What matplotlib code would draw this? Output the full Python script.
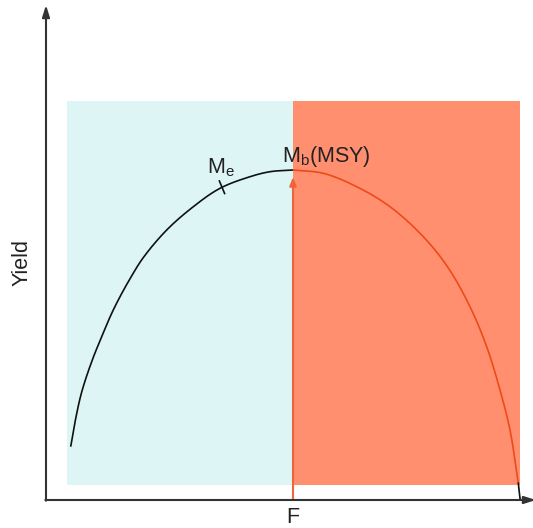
import numpy as np
import matplotlib
matplotlib.use("Agg")
import matplotlib.pyplot as plt
from matplotlib.patches import Rectangle

plt.rcParams['font.family'] = ['Liberation Sans', 'DejaVu Sans']
plt.rcParams['mathtext.fontset'] = 'custom'
plt.rcParams['mathtext.rm'] = 'Liberation Sans'
plt.rcParams['mathtext.it'] = 'Liberation Sans'

# ---- data (F, Yield) ----
f_left = [24.7, 29, 35.7, 46.3, 55.7, 65.7, 74, 83.3, 97, 120.7, 147.3, 174, 204, 224, 247.3]
y_left = [53.3, 78, 108, 140, 163.3, 186.7, 203.3, 220, 242, 270, 293.3, 311.7, 323.3, 328.3, 330]
f_right = [247.3, 277.3, 310.7, 344, 377.3, 402, 424, 440.7, 454, 464, 472.3]
y_right = [330, 326.7, 313.3, 293.3, 263.3, 232.5, 193.3, 153.3, 110, 70, 16.7]
f_tail = [472.3, 474]
y_tail = [16.7, 1.7]

f_me, y_me = 176, 312.5     # M_e marker
f_msy, y_msy = 247, 330     # MSY point

zone_left = (21, 247)
zone_right = (247, 474)
zone_y = (15.5, 399)

x_label = "F"
y_label = "Yield"


def smooth(xs, ys, n=24, alpha=0.5):
    p = np.column_stack([xs, ys]).astype(float)
    p = np.vstack([2 * p[0] - p[1], p, 2 * p[-1] - p[-2]])
    out = []
    for i in range(1, len(p) - 2):
        p0, p1, p2, p3 = p[i - 1], p[i], p[i + 1], p[i + 2]
        t0 = 0.0
        t1 = t0 + np.linalg.norm(p1 - p0) ** alpha
        t2 = t1 + np.linalg.norm(p2 - p1) ** alpha
        t3 = t2 + np.linalg.norm(p3 - p2) ** alpha
        t = np.linspace(t1, t2, n, endpoint=False)[:, None]
        a1 = (t1 - t) / (t1 - t0) * p0 + (t - t0) / (t1 - t0) * p1
        a2 = (t2 - t) / (t2 - t1) * p1 + (t - t1) / (t2 - t1) * p2
        a3 = (t3 - t) / (t3 - t2) * p2 + (t - t2) / (t3 - t2) * p3
        b1 = (t2 - t) / (t2 - t0) * a1 + (t - t0) / (t2 - t0) * a2
        b2 = (t3 - t) / (t3 - t1) * a2 + (t - t1) / (t3 - t1) * a3
        c = (t2 - t) / (t2 - t1) * b1 + (t - t1) / (t2 - t1) * b2
        out.append(c)
    out.append(p[-2][None, :])
    out = np.vstack(out)
    return out[:, 0], out[:, 1]


fig = plt.figure(figsize=(5.33, 5.28), dpi=100)
ax = fig.add_axes([0, 0, 1, 1])
ax.set_xlim(-46, 487)
ax.set_ylim(-28, 500)
ax.axis('off')

ax.add_patch(Rectangle((zone_left[0], zone_y[0]), zone_left[1] - zone_left[0],
                       zone_y[1] - zone_y[0], facecolor='#DDF5F5', edgecolor='none', zorder=1))
ax.add_patch(Rectangle((zone_right[0], zone_y[0]), zone_right[1] - zone_right[0],
                       zone_y[1] - zone_y[0], facecolor='#FF8F6F', edgecolor='none', zorder=1))

xl, yl = smooth(f_left, y_left)
ax.plot(xl, yl, color='#111111', lw=1.2, zorder=3, solid_capstyle='butt')
xr, yr = smooth(f_right, y_right)
ax.plot(xr, yr, color='#EE4A18', lw=1.2, zorder=3, solid_capstyle='butt')
ax.plot(f_tail, y_tail, color='#111111', lw=1.2, zorder=3)

# M_e tick
ax.plot([f_me - 2.6, f_me + 2.6], [y_me + 6.5, y_me - 6.0], color='#111111', lw=1.2, zorder=4)
ax.text(161, 327, r'$\mathregular{M_e}$', fontsize=15.5, color='#222222', zorder=5)
ax.text(236, 338, r'$\mathregular{M_b}$(MSY)', fontsize=15.5, color='#222222', zorder=5)

# MSY arrow
ax.annotate('', xy=(f_msy, 323), xytext=(f_msy, 0),
            arrowprops=dict(arrowstyle='-|>,head_length=0.5,head_width=0.2',
                            color='#F0643C', lw=1.5, shrinkA=0, shrinkB=0), zorder=4)

# axes with arrows
ax.annotate('', xy=(0, 495), xytext=(0, -0.7), annotation_clip=False,
            arrowprops=dict(arrowstyle='-|>,head_length=0.7,head_width=0.22',
                            color='#333333', lw=1.5, shrinkA=0, shrinkB=0), zorder=6)
ax.annotate('', xy=(490, 0), xytext=(-0.7, 0), annotation_clip=False,
            arrowprops=dict(arrowstyle='-|>,head_length=0.7,head_width=0.22',
                            color='#333333', lw=1.5, shrinkA=0, shrinkB=0), zorder=6)

ax.text(f_msy, -7, x_label, fontsize=15.5, ha='center', va='top', color='#222222')
ax.text(-24, 238, y_label, fontsize=15.5, ha='center', va='center', rotation=90, color='#222222')

fig.savefig('out.png', dpi=100)
